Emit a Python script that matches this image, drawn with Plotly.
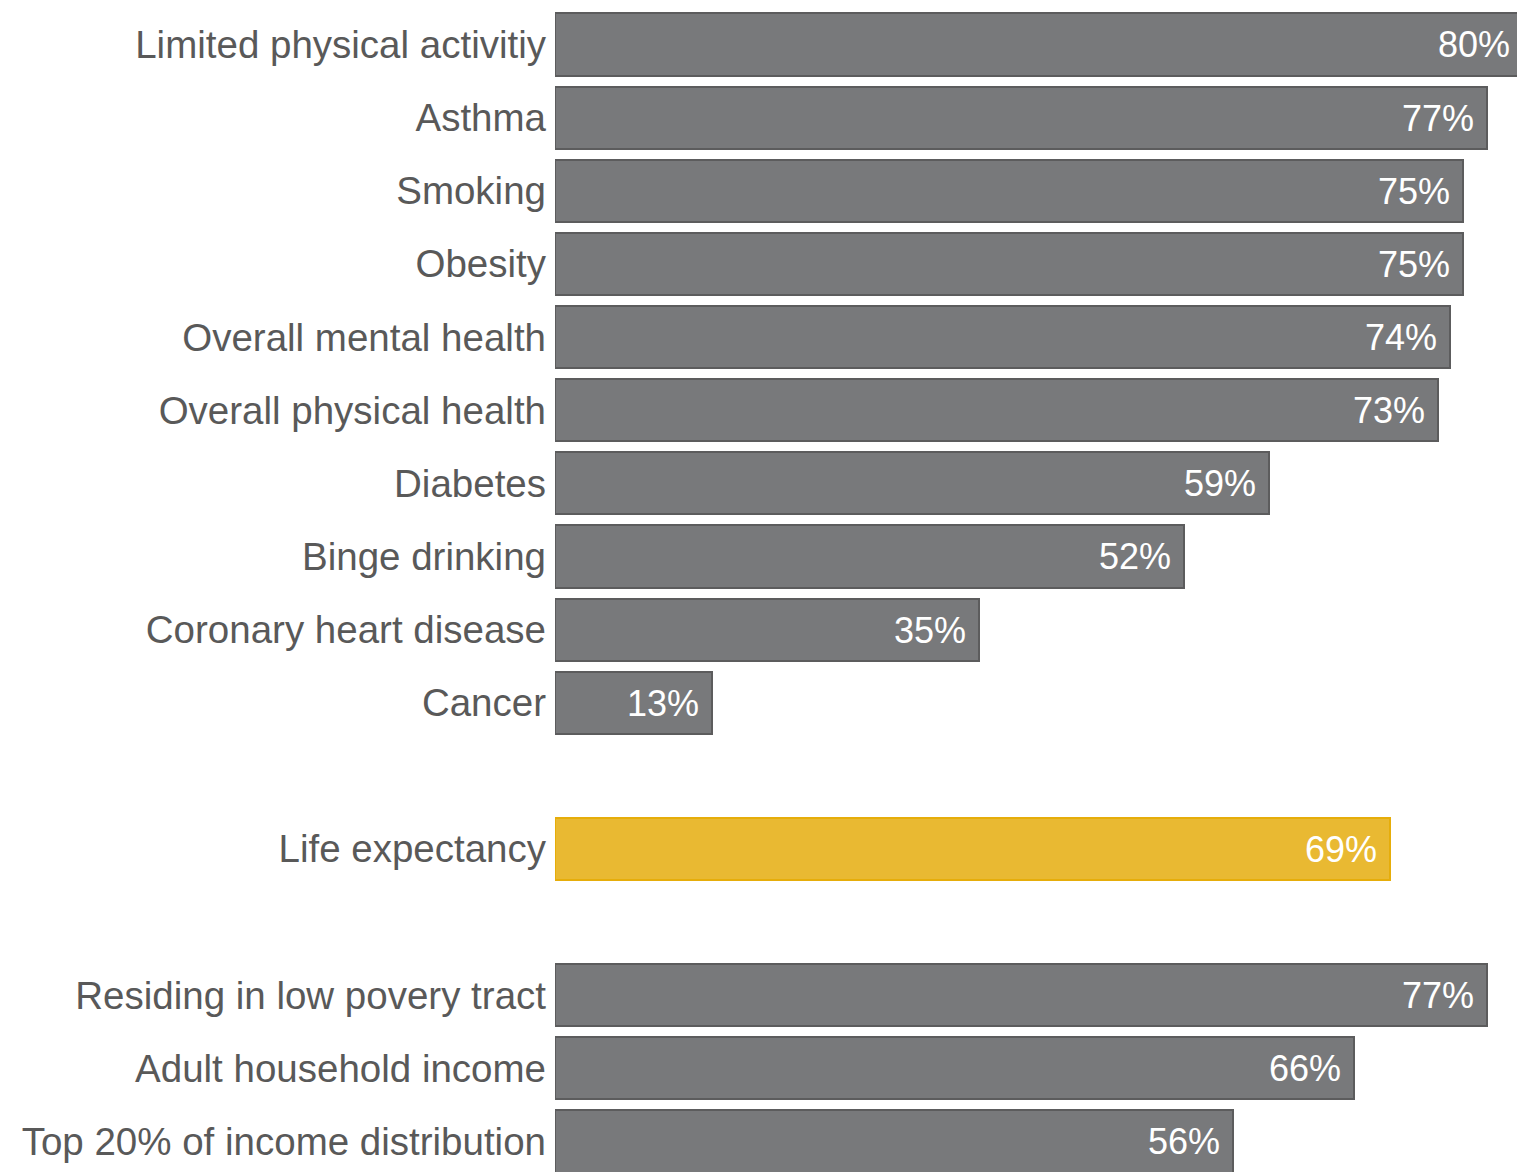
import plotly.graph_objects as go

# Share of each measure, grouped: health outcomes, life expectancy, socioeconomic
health_labels = [
    "Limited physical activitiy", "Asthma", "Smoking", "Obesity",
    "Overall mental health", "Overall physical health", "Diabetes",
    "Binge drinking", "Coronary heart disease", "Cancer",
]
health_values = [80, 77, 75, 75, 74, 73, 59, 52, 35, 13]

life_labels = ["Life expectancy"]
life_values = [69]

income_labels = [
    "Residing in low povery tract", "Adult household income",
    "Top 20% of income distribution",
]
income_values = [77, 66, 56]

GRAY = "#78797b"
GRAY_EDGE = "#5c5c5d"
GOLD = "#e9b932"
GOLD_EDGE = "#e6ad0a"
LABEL = "#595959"
FONT = "Liberation Sans, Arial, sans-serif"

groups = [
    (health_labels, health_values, GRAY, GRAY_EDGE),
    (life_labels, life_values, GOLD, GOLD_EDGE),
    (income_labels, income_values, GRAY, GRAY_EDGE),
]

fig = go.Figure()
tickvals, ticktext = [], []
slot = 0
for labels, values, fill, edge in groups:
    slots = list(range(slot, slot + len(labels)))
    fig.add_trace(go.Bar(
        x=values,
        y=slots,
        orientation="h",
        width=0.85,
        marker=dict(color=fill, line=dict(color=edge, width=2)),
        texttemplate="%{x}%\u00a0",
        textposition="inside",
        insidetextanchor="end",
        textangle=0,
        insidetextfont=dict(color="white", size=36, family=FONT),
        hoverinfo="skip",
    ))
    tickvals += slots
    ticktext += labels
    slot += len(labels) + 1  # leave an empty row between groups

fig.update_layout(
    width=1517,
    height=1172,
    margin=dict(l=555, r=0, t=0, b=0),
    paper_bgcolor="white",
    plot_bgcolor="white",
    showlegend=False,
    bargap=0,
    font=dict(family=FONT, color=LABEL, size=38),
    xaxis=dict(range=[0, 79.5], visible=False, fixedrange=True),
    yaxis=dict(
        range=[15.417, -0.609],
        tickvals=tickvals,
        ticktext=ticktext,
        ticks="",
        ticklabelstandoff=8,
        showgrid=False,
        zeroline=False,
        showline=False,
        tickfont=dict(size=38.5, color=LABEL, family=FONT),
        fixedrange=True,
    ),
)

fig.write_html("out.html")
